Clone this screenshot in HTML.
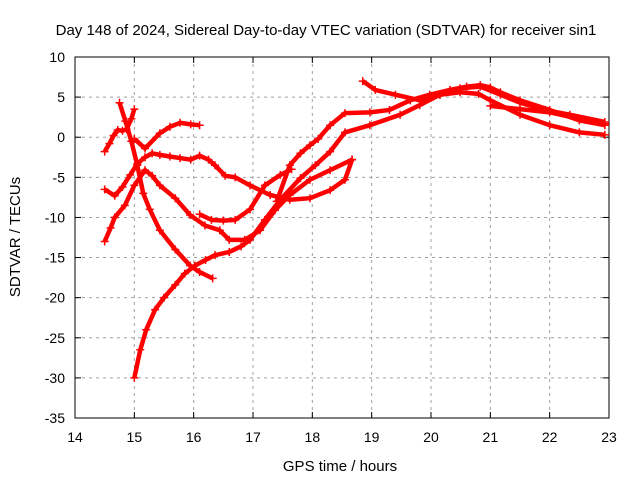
<!DOCTYPE html>
<html><head><meta charset="utf-8"><style>
body{margin:0;background:#fff;}
svg{display:block;font-family:"Liberation Sans",sans-serif;}
</style></head><body>
<svg id="chart" width="640" height="480">
<rect width="640" height="480" fill="#fff"/>
<g id="grid"></g>
<g id="axes"></g>
<g id="series"></g>
<text x="326" y="35" text-anchor="middle" font-size="15">Day 148 of 2024, Sidereal Day-to-day VTEC variation (SDTVAR) for receiver sin1</text>
<text x="340" y="471" text-anchor="middle" font-size="15">GPS time / hours</text>
<text transform="translate(20,237) rotate(-90)" text-anchor="middle" font-size="15">SDTVAR / TECUs</text>
</svg>
<script>
const xTicks=[14,15,16,17,18,19,20,21,22,23];
const yTicks=[10,5,0,-5,-10,-15,-20,-25,-30,-35];
const track1X=[14.5,14.58,14.65,14.72,14.8,14.87,14.95,15.0];
const track1Y=[-1.8,-0.8,0.2,0.9,0.8,1.0,2.3,3.5];
const track2X=[15.0,15.18,15.43,15.6,15.77,15.95,16.1];
const track2Y=[-0.2,-1.4,0.5,1.3,1.8,1.6,1.5];
const track3X=[14.5,14.67,14.8,14.93,15.05,15.18,15.3,15.43,15.6,15.77,15.95,16.1,16.25,16.36,16.53,16.7,16.95,17.29,17.62,17.96,18.3,18.55,18.67];
const track3Y=[-6.5,-7.3,-6.2,-4.7,-3.3,-2.5,-2.0,-2.2,-2.4,-2.6,-2.8,-2.3,-2.8,-3.5,-4.8,-5.0,-6.0,-7.2,-7.8,-7.6,-6.6,-5.3,-2.8];
const track4X=[14.5,14.6,14.67,14.84,15.0,15.18,15.3,15.43,15.69,15.94,16.19,16.44,16.6,16.86,17.12,17.37,17.62,17.96,18.3,18.67];
const track4Y=[-13,-11.3,-10,-8.5,-6.0,-4.1,-4.8,-6.0,-7.6,-9.7,-11.0,-11.6,-12.8,-12.8,-11.6,-9.1,-7.2,-5.3,-4.1,-2.8];
const track5X=[14.75,14.85,14.95,15.05,15.15,15.26,15.43,15.69,15.94,16.1,16.32];
const track5Y=[4.3,2.0,-0.5,-3.5,-7.0,-9.0,-11.6,-14.0,-16.0,-16.8,-17.6];
const track6X=[15.0,15.1,15.2,15.35,15.5,15.69,15.85,16.02,16.2,16.36,16.6,16.8,16.95,17.2,17.46,17.8,18.05,18.3,18.55,18.97,19.48,19.81,20.15,20.49,20.8,21.0,21.5,22.0,22.5,22.93];
const track6Y=[-30,-26.5,-24,-21.5,-20,-18.4,-17,-16,-15.3,-14.7,-14.3,-13.6,-12.8,-10.3,-7.8,-5.1,-3.5,-1.8,0.6,1.5,2.8,4.0,5.3,5.6,5.4,4.6,2.8,1.5,0.6,0.3];
const track7X=[16.1,16.3,16.5,16.7,16.95,17.2,17.46,17.65];
const track7Y=[-9.6,-10.3,-10.4,-10.3,-9.0,-6.0,-4.7,-4.0];
const track8X=[17.4,17.62,17.8,17.96,18.1,18.3,18.55,18.97,19.3,19.65,19.98,20.32,20.6,20.83,21.0,21.17,21.5,22.0,22.5,22.93];
const track8Y=[-8,-3.5,-2.0,-1.0,-0.2,1.5,3.0,3.1,3.4,4.6,5.3,5.9,6.3,6.5,6.2,5.6,4.6,3.4,2.1,1.5];
const track9X=[18.85,19.06,19.4,19.81,20.15,20.49,20.83,21.17,21.5,21.92,22.34,22.93];
const track9Y=[7.0,5.9,5.3,4.6,5.3,6.1,6.3,5.3,4.3,3.4,2.8,1.9];
const track10X=[21.0,21.5,22.0,22.5,22.93];
const track10Y=[3.9,3.5,3.1,2.3,1.7];

const L=75,R=609,T=57,B=418;
const sx=v=>L+(v-14)/(23-14)*(R-L);
const sy=v=>T+(10-v)/(10+35)*(B-T);
const NS='http://www.w3.org/2000/svg';
function mk(tag,attrs,parent){const e=document.createElementNS(NS,tag);for(const k in attrs)e.setAttribute(k,attrs[k]);parent.appendChild(e);return e;}
const grid=document.getElementById('grid'),axes=document.getElementById('axes'),series=document.getElementById('series');
xTicks.forEach(t=>{const x=sx(t);
 if(t>14&&t<23){const g=mk('line',{x1:x,x2:x,y1:T,y2:B,stroke:'#a0a0a0','stroke-dasharray':'3,4'},grid);
 
 }
 mk('line',{x1:x,x2:x,y1:B,y2:B-6,stroke:'#000'},axes);
 mk('line',{x1:x,x2:x,y1:T,y2:T+6,stroke:'#000'},axes);
 const tx=mk('text',{x:x,y:B+24,'text-anchor':'middle','font-size':'14'},axes);tx.textContent=t;
 
 
});
yTicks.forEach(t=>{const y=sy(t);
 if(t<10&&t>-35){const g=mk('line',{x1:L,x2:R,y1:y,y2:y,stroke:'#a0a0a0','stroke-dasharray':'3,4'},grid);
 
 }
 mk('line',{x1:L,x2:L+6,y1:y,y2:y,stroke:'#000'},axes);
 mk('line',{x1:R,x2:R-6,y1:y,y2:y,stroke:'#000'},axes);
 const tx=mk('text',{x:L-10,y:y+5,'text-anchor':'end','font-size':'14'},axes);tx.textContent=t;
 
 
});
const fr=mk('rect',{x:L,y:T,width:R-L,height:B-T,fill:'none',stroke:'#000'},axes);


const tracks=[[track1X,track1Y],[track2X,track2Y],[track3X,track3Y],[track4X,track4Y],[track5X,track5Y],[track6X,track6Y],[track7X,track7Y],[track8X,track8Y],[track9X,track9Y],[track10X,track10Y]];
tracks.forEach((tr,i)=>{
 const pts=tr[0].map((x,j)=>sx(x)+','+sy(tr[1][j])).join(' ');
 const pl=mk('polyline',{points:pts,fill:'none',stroke:'#ff0000','stroke-width':'4.5','stroke-linejoin':'round'},series);
 
 
 tr[0].forEach((x,j)=>{const px=sx(x),py=sy(tr[1][j]);
  const m=mk('path',{d:`M${px-4},${py}H${px+4}M${px},${py-4}V${py+4}`,stroke:'#ff0000','stroke-width':'1.5'},series);
  
  
 });
});
</script>
</body></html>
